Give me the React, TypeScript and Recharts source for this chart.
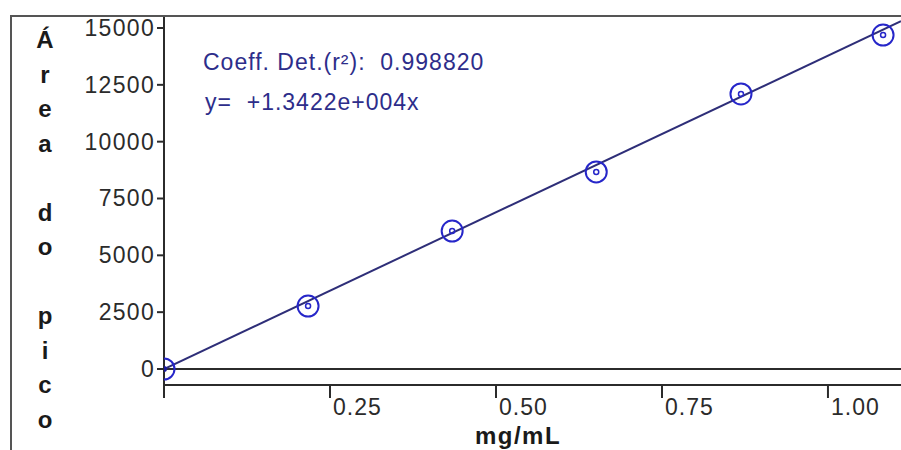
import React from 'react';
import {
  ComposedChart,
  XAxis,
  YAxis,
  Line,
  Scatter,
  ReferenceLine,
  Customized,
} from 'recharts';

// Concentration (mg/mL) of each standard
const concentrations = [0, 0.217, 0.434, 0.651, 0.869, 1.083];
// Peak area read for each standard
const peakAreas = [0, 2770, 6070, 8670, 12100, 14690];
// Regression line end points
const fitX = [0, 1.11];
const fitY = [0, 15300];
// Axis ticks
const xTicks = [0, 0.25, 0.5, 0.75, 1.0];
const xTickLabels = ['', '0.25', '0.50', '0.75', '1.00'];
const yTicks = [0, 2500, 5000, 7500, 10000, 12500, 15000];
const yLabelChars = ['Á', 'r', 'e', 'a', ' ', 'd', 'o', ' ', 'p', 'i', 'c', 'o'];
const annotationLines = ['Coeff. Det.(r²):  0.998820', 'y=  +1.3422e+004x'];

const points = concentrations.map((x, i) => ({ x, y: peakAreas[i] }));
const fitLine = fitX.map((x, i) => ({ x, y: fitY[i] }));

const FONT = '"Liberation Sans", Arial, sans-serif';
const AXIS = '#2b2b2b';
const MARK = '#2626c9';

const Marker = (props: any) => {
  const { cx, cy, index } = props;
  if (cx == null || cy == null) return null;
  return (
    <g>
      <circle cx={cx} cy={cy} r={10.5} fill="none" stroke={MARK} strokeWidth={2} />
      {index === 0 ? (
        <circle cx={cx} cy={cy} r={3} fill="#1a1a9a" />
      ) : (
        <circle cx={cx} cy={cy} r={2.5} fill="none" stroke={MARK} strokeWidth={1.5} />
      )}
    </g>
  );
};

const XTick = (props: any) => {
  const { x, y, payload } = props;
  const idx = xTicks.indexOf(payload.value);
  const label = idx >= 0 ? xTickLabels[idx] : '';
  if (!label) return null;
  return (
    <text x={x + 3} y={y} dy={15} fill={AXIS} fontFamily={FONT} fontSize={23} letterSpacing={1} textAnchor="start">
      {label}
    </text>
  );
};

const YTick = (props: any) => {
  const { x, y, payload } = props;
  return (
    <text x={x} y={y} dy={8} fill={AXIS} fontFamily={FONT} fontSize={23} letterSpacing={1.3} textAnchor="end">
      {String(payload.value)}
    </text>
  );
};

const Decorations = () => (
  <g>
    {yLabelChars.map((c, i) =>
      c === ' ' ? null : (
        <text
          key={i}
          x={45}
          y={48 + i * 34.5}
          textAnchor="middle"
          fontFamily={FONT}
          fontWeight="bold"
          fontSize={24}
          fill="#1a1a1a"
        >
          {c}
        </text>
      )
    )}
    {annotationLines.map((t, i) => (
      <text
        key={i}
        x={i === 0 ? 203 : 205}
        y={70 + i * 40}
        fontFamily={FONT}
        fontSize={23}
        letterSpacing={1}
        fill="#2d2d8a"
        style={{ whiteSpace: 'pre' }}
        xmlSpace="preserve"
      >
        {t}
      </text>
    ))}
    <text
      x={518}
      y={444}
      textAnchor="middle"
      fontFamily={FONT}
      fontWeight="bold"
      fontSize={24}
      letterSpacing={1.5}
      fill="#1a1a1a"
    >
      mg/mL
    </text>
  </g>
);

export default function App() {
  return (
    <div style={{ position: 'absolute', left: 0, top: 0, width: 901, height: 450, background: '#fff', overflow: 'hidden' }}>
      <ComposedChart
        width={901}
        height={450}
        margin={{ top: 16, right: 0, bottom: 0, left: 0 }}
        style={{ fontFamily: FONT }}
      >
        <XAxis
          type="number"
          dataKey="x"
          domain={[0, 1.11]}
          ticks={xTicks}
          allowDataOverflow
          height={65}
          tickSize={13}
          tickMargin={2}
          axisLine={{ stroke: AXIS, strokeWidth: 2 }}
          tickLine={{ stroke: AXIS, strokeWidth: 2 }}
          tick={<XTick />}
        />
        <YAxis
          type="number"
          dataKey="y"
          domain={[-704, 15528]}
          ticks={yTicks}
          allowDataOverflow
          width={164}
          tickSize={7}
          tickMargin={2}
          axisLine={{ stroke: AXIS, strokeWidth: 2 }}
          tickLine={{ stroke: AXIS, strokeWidth: 2 }}
          tick={<YTick />}
        />
        <ReferenceLine y={0} stroke={AXIS} strokeWidth={2} />
        <Line
          data={fitLine}
          dataKey="y"
          type="linear"
          stroke="#2e2e78"
          strokeWidth={2}
          dot={false}
          activeDot={false}
          isAnimationActive={false}
        />
        <Scatter data={points} dataKey="y" shape={<Marker />} isAnimationActive={false} />
        <Customized component={<Decorations />} />
      </ComposedChart>
      <div
        style={{
          position: 'absolute',
          left: 10,
          top: 15,
          width: 900,
          height: 440,
          borderLeft: '2px solid #555',
          borderTop: '2px solid #555',
          pointerEvents: 'none',
        }}
      />
    </div>
  );
}
